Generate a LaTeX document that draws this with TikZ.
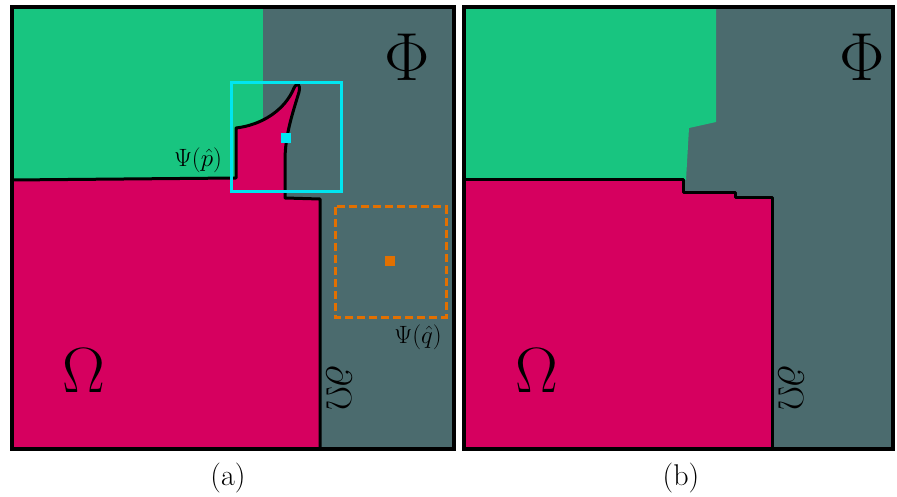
\documentclass[tikz,border=0pt]{standalone}
\usepackage{fix-cm}
\definecolor{grn}{RGB}{24,197,128}
\definecolor{slate}{RGB}{75,107,110}
\definecolor{mag}{RGB}{214,0,95}
\definecolor{cyn}{RGB}{0,230,240}
\definecolor{org}{RGB}{226,112,0}
\tikzset{
  panelborder/.style={draw=black,line width=4pt},
  region/.style={draw=black,line width=3pt,line join=round},
  bigsym/.style={inner sep=0pt,font=\fontsize{68}{70}\selectfont},
  omsym/.style={inner sep=0pt,font=\fontsize{64}{66}\selectfont},
  bdsym/.style={inner sep=0pt,rotate=-90,font=\fontsize{36}{38}\selectfont},
  smalllab/.style={inner sep=0pt,font=\fontsize{25}{27}\selectfont},
  caplab/.style={inner sep=0pt,font=\fontsize{30}{32}\selectfont},
  marker/.style={minimum size=10pt,inner sep=0pt,draw=none}
}
\begin{document}
\begin{tikzpicture}[x=1pt,y=-1pt]
\useasboundingbox (0,0) rectangle (897,497);
% ---------- panel (a) ----------
\fill[slate] (12,7) rectangle (454,449);
\fill[grn] (12,7) rectangle (263,180);
\fill[mag] (12,180) -- (236,178) -- (236,128)
  .. controls (262,125) and (285,110) .. (294,88)
  .. controls (297,82) and (301,84) .. (299,92)
  .. controls (293,112) and (285,135) .. (285,160)
  -- (285,198) -- (320,199) -- (320,449) -- (12,449) -- cycle;
\draw[region] (12,180) -- (236,178) -- (236,128)
  .. controls (262,125) and (285,110) .. (294,88)
  .. controls (297,82) and (301,84) .. (299,92)
  .. controls (293,112) and (285,135) .. (285,160)
  -- (285,198) -- (320,199) -- (320,449);
\draw[cyn,line width=3pt] (231,83) rectangle (341,192);
\node[marker,fill=cyn] (pa) at (286,138) {};
\draw[org,line width=3pt,dash pattern=on 8pt off 4pt] (335,207) rectangle (446,317);
\node[marker,fill=org] (qa) at (390,261) {};
\draw[panelborder] (12,7) rectangle (454,449);
\node[bigsym] (phia) at (407,57) {$\Phi$};
\node[omsym] (oma) at (84,371) {$\Omega$};
\node[bdsym] (bda) at (339,388) {$\partial\Omega$};
\node[smalllab] (psip) at (198,160) {$\Psi(\hat{p})$};
\node[smalllab] (psiq) at (418,337) {$\Psi(\hat{q})$};
\node[caplab] (capa) at (228,478) {(a)};
% ---------- panel (b) ----------
\fill[slate] (464,7) rectangle (893,449);
\fill[grn] (464,7) -- (716,7) -- (716,122) -- (689,128) -- (686,180) -- (464,180) -- cycle;
\fill[mag] (464,180) -- (683,180) -- (683,193) -- (735,193) -- (735,198)
  -- (772,198) -- (772,449) -- (464,449) -- cycle;
\draw[region] (464,180) -- (683,180) -- (683,193) -- (735,193) -- (735,198)
  -- (772,198) -- (772,449);
\draw[panelborder] (464,7) rectangle (893,449);
\node[bigsym] (phib) at (862,57) {$\Phi$};
\node[omsym] (omb) at (537,371) {$\Omega$};
\node[bdsym] (bdb) at (791,388) {$\partial\Omega$};
\node[caplab] (capb) at (681,478) {(b)};
\end{tikzpicture}
\end{document}
